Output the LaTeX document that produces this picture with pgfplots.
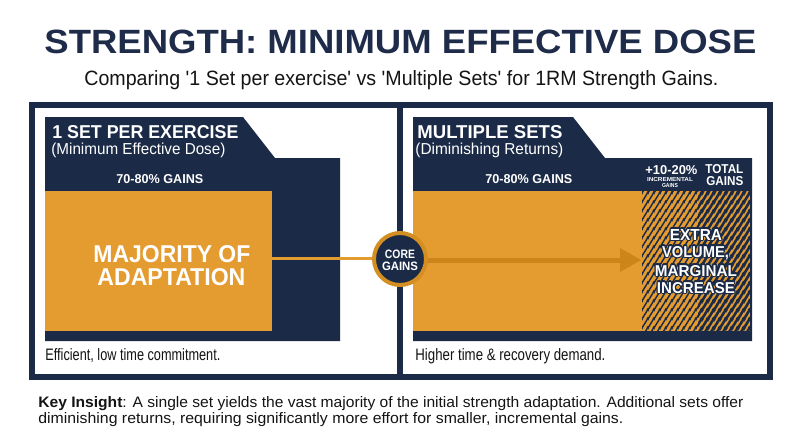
\documentclass[border=0pt]{standalone}
\usepackage{pgfplots}
\pgfplotsset{compat=1.18}
\usepackage{fontspec}
\setmainfont{Liberation Sans}
\usepackage{graphicx}
\usepackage{contour}
\contourlength{0.7pt}
\contournumber{24}
\usetikzlibrary{patterns.meta}
\definecolor{navy}{HTML}{1B2B47}
\definecolor{titlenavy}{HTML}{1E2C4A}
\definecolor{gold}{HTML}{E49B2F}
\definecolor{darkgold}{HTML}{CB8519}
\definecolor{ring}{HTML}{D48F22}
\definecolor{ink}{HTML}{141414}
\newlength\pxu
\setlength\pxu{0.5pt}
\newcommand\fit[3]{\resizebox{#1\pxu}{#2\pxu}{#3}}
\newcommand\coretext{\vbox{\offinterlineskip\halign{\hfil##\hfil\cr\fit{30}{8.5}{\bfseries CORE}\cr\noalign{\vskip 2pt}\fit{36}{8.5}{\bfseries GAINS}\cr}}}
\tikzdeclarepattern{
  name=thinstripes,
  type=uncolored,
  bounding box={(0pt,0pt) and (3pt,4.6pt)},
  tile size={(3pt,4.6pt)},
  code={
    \pgfsetlinewidth{0.8pt}
    \pgfpathmoveto{\pgfpoint{-0.6pt}{-0.92pt}}\pgfpathlineto{\pgfpoint{3.6pt}{5.52pt}}
    \pgfpathmoveto{\pgfpoint{-0.6pt}{3.68pt}}\pgfpathlineto{\pgfpoint{0.6pt}{5.52pt}}
    \pgfpathmoveto{\pgfpoint{2.4pt}{-0.92pt}}\pgfpathlineto{\pgfpoint{3.6pt}{0.92pt}}
    \pgfusepath{stroke}
  }
}
\tikzdeclarepattern{
  name=thickstripes,
  type=uncolored,
  bounding box={(0pt,0pt) and (3pt,4.6pt)},
  tile size={(3pt,4.6pt)},
  code={
    \pgfsetlinewidth{1.45pt}
    \pgfpathmoveto{\pgfpoint{-0.6pt}{-0.92pt}}\pgfpathlineto{\pgfpoint{3.6pt}{5.52pt}}
    \pgfpathmoveto{\pgfpoint{-0.6pt}{3.68pt}}\pgfpathlineto{\pgfpoint{0.6pt}{5.52pt}}
    \pgfpathmoveto{\pgfpoint{2.4pt}{-0.92pt}}\pgfpathlineto{\pgfpoint{3.6pt}{0.92pt}}
    \pgfusepath{stroke}
  }
}
\begin{document}
\begin{tikzpicture}
\begin{axis}[
  width=400pt, height=223.5pt, scale only axis,
  xmin=0, xmax=800, ymin=0, ymax=447, y dir=reverse,
  hide axis, clip=false]
% background / bounding box
\addplot[fill=white, draw=none] coordinates {(0,0) (800,0) (800,447) (0,447)} -- cycle;
% outer frame and divider
\addplot[draw=navy, line width=3pt] coordinates {(32,104.5) (770,104.5) (770,376.5) (32,376.5)} -- cycle;
\addplot[draw=navy, line width=3pt] coordinates {(400,104.5) (400,376.5)};
% left panel: navy block with tab
\addplot[fill=navy, draw=none] coordinates {(45,117) (243,117) (275,158) (340,158) (340,341) (45,341)} -- cycle;
% left panel: orange bar (70-80% gains)
\addplot[fill=gold, draw=none] coordinates {(45,191) (272,191) (272,331) (45,331)} -- cycle;
% right panel: navy block with tab
\addplot[fill=navy, draw=none] coordinates {(413,117) (573,117) (605,158) (752,158) (752,341) (413,341)} -- cycle;
% right panel: orange bar (70-80% + 10-20%)
\addplot[fill=gold, draw=none] coordinates {(413,191) (750,191) (750,331) (413,331)} -- cycle;
% hatched increment
\addplot[pattern={thinstripes}, pattern color=navy, draw=none] coordinates {(642,191) (698,191) (698,331) (642,331)} -- cycle;
\addplot[pattern={thickstripes}, pattern color=navy, draw=none] coordinates {(698,191) (750,191) (750,331) (698,331)} -- cycle;
% connector and arrow
\addplot[draw=gold, line width=1.5pt] coordinates {(272,258) (380,258)};
\addplot[draw=darkgold, line width=2.5pt] coordinates {(425,260) (622,260)};
\addplot[fill=darkgold, draw=none] coordinates {(620,248) (641,260) (620,272)} -- cycle;
% core gains circle with its label
\addplot[only marks, mark=*, mark size=13pt, mark options={fill=navy, draw=ring, line width=2pt},
  nodes near coords={\coretext},
  every node near coord/.append style={anchor=center, inner sep=0pt, text=white, yshift=-0.6pt}] coordinates {(400,259)};

% title and subtitle
\node[anchor=base west, inner sep=0pt, text=titlenavy] at (axis cs:44,53) {\fit{712}{23.5}{\bfseries STRENGTH: MINIMUM EFFECTIVE DOSE}};
\node[anchor=base west, inner sep=0pt, text=ink] at (axis cs:84,85) {\fit{634}{15}{Comparing \textquotesingle 1 Set per exercise\textquotesingle\ vs \textquotesingle Multiple Sets\textquotesingle\ for 1RM Strength Gains.}};

% left panel texts
\node[anchor=base west, inner sep=0pt, text=white] at (axis cs:52,138) {\fit{186}{13}{\bfseries 1 SET PER EXERCISE}};
\node[anchor=base west, inner sep=0pt, text=white] at (axis cs:51,154) {\fit{174}{11.5}{(Minimum Effective Dose)}};
\node[anchor=base west, inner sep=0pt, text=white] at (axis cs:116,183) {\fit{87}{9}{\bfseries 70-80\% GAINS}};
\node[anchor=base west, inner sep=0pt, text=white] at (axis cs:93,262) {\fit{157}{17}{\bfseries MAJORITY OF}};
\node[anchor=base west, inner sep=0pt, text=white] at (axis cs:97,285) {\fit{148}{17}{\bfseries ADAPTATION}};
\node[anchor=base west, inner sep=0pt, text=ink] at (axis cs:45,360) {\fit{175}{12}{Efficient, low time commitment.}};

% right panel texts
\node[anchor=base west, inner sep=0pt, text=white] at (axis cs:417,138) {\fit{145}{13}{\bfseries MULTIPLE SETS}};
\node[anchor=base west, inner sep=0pt, text=white] at (axis cs:415,154) {\fit{148}{11.5}{(Diminishing Returns)}};
\node[anchor=base west, inner sep=0pt, text=white] at (axis cs:485,183) {\fit{87}{9}{\bfseries 70-80\% GAINS}};
\node[anchor=base west, inner sep=0pt, text=white] at (axis cs:645,174) {\fit{52}{9}{\bfseries +10-20\%}};
\node[anchor=base, inner sep=0pt, text=white] at (axis cs:670,181) {\fit{46}{4}{\bfseries INCREMENTAL}};
\node[anchor=base, inner sep=0pt, text=white] at (axis cs:670,187) {\fit{16}{4}{\bfseries GAINS}};
\node[anchor=base west, inner sep=0pt, text=white] at (axis cs:705,173) {\fit{38}{9}{\bfseries TOTAL}};
\node[anchor=base west, inner sep=0pt, text=white] at (axis cs:706,185) {\fit{37}{9}{\bfseries GAINS}};
\node[anchor=base, inner sep=0pt, text=white] at (axis cs:696,240) {\fit{52}{11}{\fontsize{10pt}{10pt}\selectfont\bfseries\contour{navy}{EXTRA}}};
\node[anchor=base, inner sep=0pt, text=white] at (axis cs:695.5,257) {\fit{67}{11}{\fontsize{10pt}{10pt}\selectfont\bfseries\contour{navy}{VOLUME,}}};
\node[anchor=base, inner sep=0pt, text=white] at (axis cs:696,276) {\fit{82}{11}{\fontsize{10pt}{10pt}\selectfont\bfseries\contour{navy}{MARGINAL}}};
\node[anchor=base, inner sep=0pt, text=white] at (axis cs:696,293) {\fit{78}{11}{\fontsize{10pt}{10pt}\selectfont\bfseries\contour{navy}{INCREASE}}};
\node[anchor=base west, inner sep=0pt, text=ink] at (axis cs:415,360) {\fit{190}{12}{Higher time \& recovery demand.}};

% key insight
\node[anchor=base west, inner sep=0pt, text=ink] at (axis cs:38,407) {\fit{705}{11}{\textbf{Key Insight}: A single set yields the vast majority of the initial strength adaptation. Additional sets offer}};
\node[anchor=base west, inner sep=0pt, text=ink] at (axis cs:38,423) {\fit{585}{11}{diminishing returns, requiring significantly more effort for smaller, incremental gains.}};
\end{axis}
\end{tikzpicture}
\end{document}
